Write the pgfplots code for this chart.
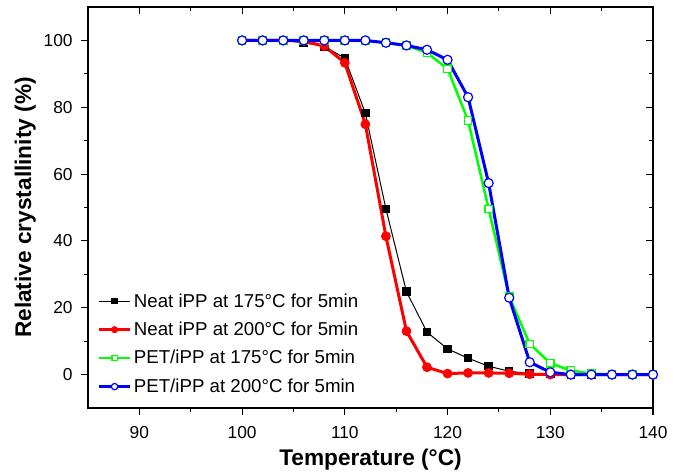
\documentclass[border=0pt]{standalone}
\usepackage{fontspec}
\setmainfont{Liberation Sans}
\usepackage{pgfplots}
\pgfplotsset{compat=1.18}

\definecolor{pureRed}{RGB}{255,0,0}
\definecolor{pureGreen}{RGB}{0,255,0}
\definecolor{pureBlue}{RGB}{0,0,255}

% temperature, neat iPP 175, neat iPP 200, PET/iPP 175, PET/iPP 200
\pgfplotstableread{
T   n175  n200  p175  p200
100 100   100   100   100
102 100   100   100   100
104 100   100   100   100
106 99.3  99.8  100   100
108 98.2  98.3  100   100
110 94.7  93.3  100   100
112 78.2  74.9  99.8  100
114 49.6  41.4  99.3  99.3
116 24.8  13.0  98.5  98.5
118 12.7  2.2   96.3  97.2
120 7.7   0.3   91.5  94.2
122 4.9   0.5   76.0  83.0
124 2.5   0.5   49.6  57.3
126 1.0   0.4   23.3  23.0
128 0.3   0.1   9.2   3.7
130 0.1   0     3.4   0.7
132 0     0     1.2   0
134 0     0     0.3   0
136 0     0     0     0
138 0     0     0     0
140 0     0     0     0
}\crystdata

\pgfplotsset{
  frame/.style={
    scale only axis,
    width=423.75pt, height=300.75pt,
    xmin=85, xmax=140, ymin=-10, ymax=110,
    xtick={90,100,...,140}, ytick={0,20,...,100},
    minor x tick num=1, minor y tick num=1,
    major tick length=5pt, minor tick length=3pt,
    axis line style={line width=0.8pt},
    every tick/.style={black, line width=0.8pt},
  },
}

\begin{document}
\begin{tikzpicture}
\useasboundingbox (-66pt,-50.25pt) rectangle (444pt,306pt);
% top/right inward ticks only
\begin{axis}[frame,
  tick align=inside,
  xtick pos=right, ytick pos=right,
  xticklabels={}, yticklabels={},
]
\end{axis}
\begin{axis}[frame,
  tick align=outside,
  xtick pos=left, ytick pos=left,
  clip=false,
  /pgf/number format/assume math mode=true,
  tick label style={font=\fontsize{13}{15}\selectfont},
  xticklabel style={yshift=-5pt},
  yticklabel style={xshift=-3pt},
  xlabel={\textbf{Temperature (°C)}},
  ylabel={\textbf{Relative crystallinity (\%)}},
  every axis x label/.style={at={(axis description cs:0.5,-0.13)}, anchor=center,
    font=\fontsize{17}{20}\selectfont},
  every axis y label/.style={at={(axis description cs:-0.111,0.5)}, rotate=90, anchor=center,
    font=\fontsize{17}{20}\selectfont},
  legend style={draw=none, fill=none, at={(axis description cs:0.01,0.02)}, anchor=south west,
    font=\fontsize{14}{16}\selectfont, row sep=5.7pt,
    /tikz/every even column/.append style={column sep=0pt}},
  legend cell align=left,
  legend image code/.code={
    \draw[mark repeat=2,mark phase=2,every mark/.append style={scale=0.7}]
      plot coordinates {(0cm,0cm) (0.4cm,0cm) (0.8cm,0cm)};
  },
]
\addplot[black, line width=0.75pt, mark=square*, mark size=2.8pt, mark options={solid, fill=black}]
  table[x=T, y=n175] {\crystdata};
\addlegendentry{Neat iPP at 175°C for 5min}
\addplot[pureRed, line width=2.25pt, mark=*, mark size=3.4pt, mark options={solid, fill=pureRed, line width=0.5pt}]
  table[x=T, y=n200] {\crystdata};
\addlegendentry{Neat iPP at 200°C for 5min}
\addplot[pureGreen, line width=1.9pt, mark=square*, mark size=2.8pt, mark options={solid, fill=white, line width=0.9pt}]
  table[x=T, y=p175] {\crystdata};
\addlegendentry{PET/iPP at 175°C for 5min}
\addplot[pureBlue, line width=2.25pt, mark=*, mark size=3.4pt, mark options={solid, fill=white, line width=0.9pt}]
  table[x=T, y=p200] {\crystdata};
\addlegendentry{PET/iPP at 200°C for 5min}
\end{axis}
\end{tikzpicture}
\end{document}
